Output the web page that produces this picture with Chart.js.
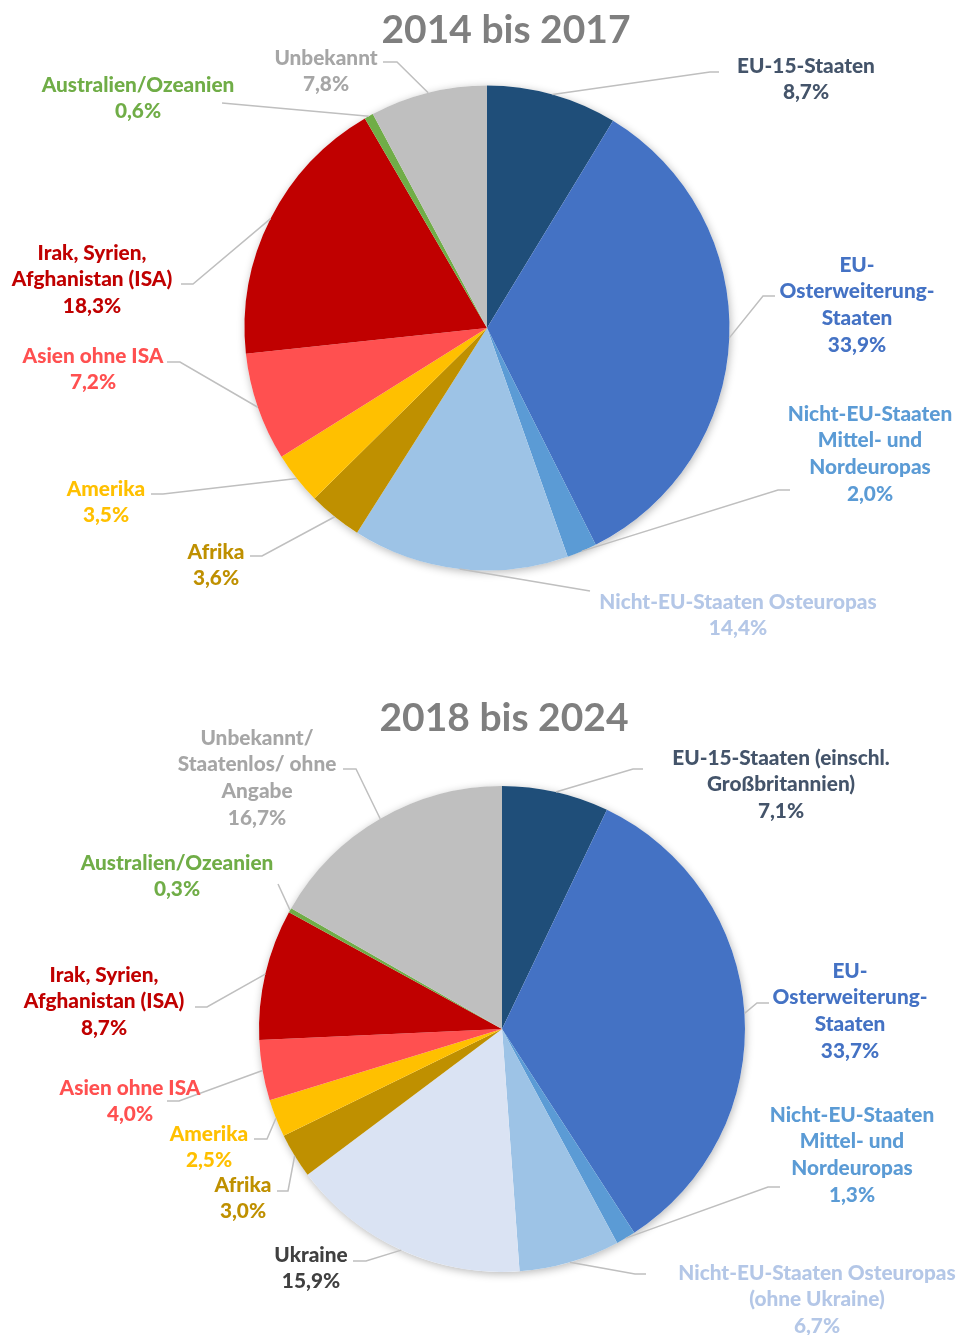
<!DOCTYPE html>
<html>
<head>
<meta charset="utf-8">
<script src="https://cdn.jsdelivr.net/npm/chart.js@4.4.1/dist/chart.umd.min.js"></script>
<style>
  body { margin: 0; background: #fff; }
  .wrap { position: relative; width: 956px; }
  #chart1 { display: block; width: 956px; height: 660px; }
  #chart2 { display: block; width: 956px; height: 675px; }
</style>
</head>
<body>
<div class="wrap">
  <canvas id="chart1" width="956" height="660"></canvas>
  <canvas id="chart2" width="956" height="675"></canvas>
</div>
<script>
// ---- data: 2014 bis 2017 ----
const categories1 = [
  "EU-15-Staaten",
  "EU-\nOsterweiterung-\nStaaten",
  "Nicht-EU-Staaten\nMittel- und\nNordeuropas",
  "Nicht-EU-Staaten Osteuropas",
  "Afrika",
  "Amerika",
  "Asien ohne ISA",
  "Irak, Syrien,\nAfghanistan (ISA)",
  "Australien/Ozeanien",
  "Unbekannt"
];
const values1 = [8.7, 33.9, 2.0, 14.4, 3.6, 3.5, 7.2, 18.3, 0.6, 7.8];
const fills1 = ["#1F4E79", "#4472C4", "#5B9BD5", "#9DC3E6", "#BF9000", "#FFC000", "#FF5050", "#C00000", "#70AD47", "#BFBFBF"];
const textColors1 = ["#44546A", "#4472C4", "#5B9BD5", "#B4C7E7", "#BF9000", "#FFC000", "#FF5050", "#C00000", "#70AD47", "#A6A6A6"];

// ---- data: 2018 bis 2024 ----
const categories2 = [
  "EU-15-Staaten (einschl.\nGroßbritannien)",
  "EU-\nOsterweiterung-\nStaaten",
  "Nicht-EU-Staaten\nMittel- und\nNordeuropas",
  "Nicht-EU-Staaten Osteuropas\n(ohne Ukraine)",
  "Ukraine",
  "Afrika",
  "Amerika",
  "Asien ohne ISA",
  "Irak, Syrien,\nAfghanistan (ISA)",
  "Australien/Ozeanien",
  "Unbekannt/\nStaatenlos/ ohne\nAngabe"
];
const values2 = [7.1, 33.7, 1.3, 6.7, 15.9, 3.0, 2.5, 4.0, 8.7, 0.3, 16.7];
const fills2 = ["#1F4E79", "#4472C4", "#5B9BD5", "#9DC3E6", "#DAE3F3", "#BF9000", "#FFC000", "#FF5050", "#C00000", "#70AD47", "#BFBFBF"];
const textColors2 = ["#44546A", "#4472C4", "#5B9BD5", "#B4C7E7", "#404040", "#BF9000", "#FFC000", "#FF5050", "#C00000", "#70AD47", "#A6A6A6"];

// label placement (canvas px): [centerX, firstLineY, elbowX, elbowY, endX]
const layout1 = [
  [806, 66, 710, 72, 719],
  [857, 265, 763, 296, 775],
  [870, 414, 778, 490, 790],
  [738, 602, 590, 591, 590],
  [216, 552, 262, 556, 250],
  [106, 489, 163, 494, 151],
  [93, 356, 180, 362, 167],
  [92, 253, 193, 284, 181],
  [138, 85, 222, 103, 222],
  [326, 58, 397, 62, 383]
];
const layout2 = [
  [781, 98, 633, 109, 643],
  [850, 311, 757, 343, 769],
  [852, 455, 768, 527, 780],
  [817, 613, 635, 614, 646],
  [311, 595, 366, 601, 353],
  [243, 525, 288, 531, 277],
  [209, 474, 267, 479, 254],
  [130, 428, 179, 441, 167],
  [104, 315, 207, 347, 195],
  [177, 203, 278, 224, 278],
  [257, 78, 356, 109, 343]
];

const FONT = "900 20.8px Lato, 'Noto Sans', sans-serif";
const LINE_H = 26.7;

function pct(v) {
  return v.toFixed(1).replace(".", ",") + "%";
}

// white disc with soft shadow under the slices
const pieShadow = {
  id: "pieShadow",
  beforeDatasetsDraw(chart) {
    const arc = chart.getDatasetMeta(0).data[0];
    if (!arc) return;
    const ctx = chart.ctx;
    ctx.save();
    ctx.shadowColor = "rgba(0,0,0,0.28)";
    ctx.shadowBlur = 9;
    ctx.shadowOffsetX = 1;
    ctx.shadowOffsetY = 2;
    ctx.fillStyle = "#fff";
    ctx.beginPath();
    ctx.arc(arc.x, arc.y, arc.outerRadius, 0, Math.PI * 2);
    ctx.fill();
    ctx.restore();
  }
};

// title + leader lines + labels
const calloutLabels = {
  id: "calloutLabels",
  afterDatasetsDraw(chart, args, opts) {
    const ctx = chart.ctx;
    const meta = chart.getDatasetMeta(0);
    const ds = chart.data.datasets[0];
    ctx.save();

    ctx.font = "bold 39px Lato, 'Noto Sans', sans-serif";
    ctx.fillStyle = "#7F7F7F";
    ctx.textAlign = "center";
    ctx.textBaseline = "middle";
    ctx.fillText(opts.title, opts.titleX, opts.titleY);

    meta.data.forEach((arc, i) => {
      const [cx, ty, ex, ey, hx] = opts.layout[i];
      const mid = (arc.startAngle + arc.endAngle) / 2;
      const px = arc.x + Math.cos(mid) * arc.outerRadius;
      const py = arc.y + Math.sin(mid) * arc.outerRadius;

      ctx.strokeStyle = "#BFBFBF";
      ctx.lineWidth = 1.5;
      ctx.beginPath();
      ctx.moveTo(px, py);
      ctx.lineTo(ex, ey);
      ctx.lineTo(hx, ey);
      ctx.stroke();

      const lines = chart.data.labels[i].split("\n");
      lines.push(pct(ds.data[i]));
      ctx.font = FONT;
      ctx.fillStyle = opts.colors[i];
      lines.forEach((t, k) => ctx.fillText(t, cx, ty + k * LINE_H));
    });
    ctx.restore();
  }
};

function makePie(id, labels, values, fills, colors, layout, title, titleX, titleY, padding) {
  return new Chart(document.getElementById(id), {
    type: "pie",
    data: {
      labels: labels,
      datasets: [{
        data: values,
        backgroundColor: fills,
        borderWidth: 0
      }]
    },
    options: {
      responsive: false,
      animation: false,
      rotation: 0,
      layout: { padding: padding },
      plugins: {
        legend: { display: false },
        tooltip: { enabled: false },
        calloutLabels: { layout, colors, title, titleX, titleY }
      }
    },
    plugins: [pieShadow, calloutLabels]
  });
}

makePie("chart1", categories1, values1, fills1, textColors1, layout1,
  "2014 bis 2017", 506, 30, { left: 244.5, right: 226.5, top: 85.5, bottom: 89.5 });
makePie("chart2", categories2, values2, fills2, textColors2, layout2,
  "2018 bis 2024", 504, 58, { left: 259, right: 211, top: 126, bottom: 63 });
</script>
</body>
</html>
